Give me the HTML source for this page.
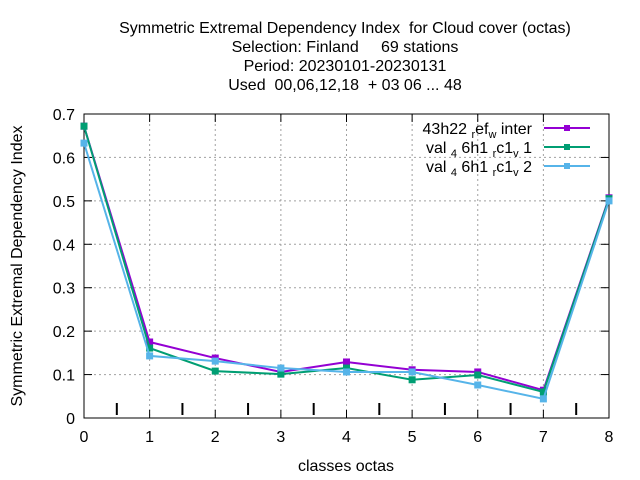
<!DOCTYPE html>
<html><head><meta charset="utf-8"><style>body{margin:0;background:#fff}svg{display:block;font-family:"Liberation Sans",sans-serif}text{white-space:pre}</style></head>
<body>
<svg id="c" width="640" height="480">
<g font-size="16" text-anchor="middle" fill="#000">
<text x="345" y="33">Symmetric Extremal Dependency Index  for Cloud cover (octas)</text>
<text x="345" y="52">Selection: Finland     69 stations</text>
<text x="345" y="71">Period: 20230101-20230131</text>
<text x="345" y="90">Used  00,06,12,18  + 03 06 ... 48</text>
</g>
<text transform="translate(22,266) rotate(-90)" text-anchor="middle" font-size="16">Symmetric Extremal Dependency Index</text>
<text x="346" y="471" text-anchor="middle" font-size="16">classes octas</text>
<g id="grid"></g><g id="axes"></g><g id="series"></g>
<g font-size="16" text-anchor="end">
<g><text x="532" y="134">43h22 <tspan font-size="11" dy="4">r</tspan><tspan dy="-4">ef</tspan><tspan font-size="11" dy="4">w</tspan><tspan dy="-4"> inter</tspan></text><line x1="544" y1="128" x2="590" y2="128" stroke="#9400d3" stroke-width="2"/><rect x="564" y="125" width="6" height="6" fill="#9400d3"/></g>
<g><text x="532" y="153">val <tspan font-size="11" dy="4">4</tspan><tspan dy="-4"> 6h1 </tspan><tspan font-size="11" dy="4">r</tspan><tspan dy="-4">c1</tspan><tspan font-size="11" dy="4">v</tspan><tspan dy="-4"> 1</tspan></text><line x1="544" y1="147" x2="590" y2="147" stroke="#009e73" stroke-width="2"/><rect x="564" y="144" width="6" height="6" fill="#009e73"/></g>
<g><text x="532" y="172">val <tspan font-size="11" dy="4">4</tspan><tspan dy="-4"> 6h1 </tspan><tspan font-size="11" dy="4">r</tspan><tspan dy="-4">c1</tspan><tspan font-size="11" dy="4">v</tspan><tspan dy="-4"> 2</tspan></text><line x1="544" y1="166" x2="590" y2="166" stroke="#56b4e9" stroke-width="2"/><rect x="564" y="163" width="6" height="6" fill="#56b4e9"/></g>
</g>
</svg>
<script>
const categories=[0,1,2,3,4,5,6,7,8];
const yTicks=[0,0.1,0.2,0.3,0.4,0.5,0.6,0.7];
const seriesRef=[0.672,0.175,0.138,0.106,0.129,0.111,0.106,0.064,0.507];
const seriesV1=[0.672,0.161,0.108,0.101,0.115,0.088,0.099,0.060,0.505];
const seriesV2=[0.633,0.143,0.131,0.115,0.106,0.106,0.076,0.044,0.500];
const seriesNames=["43h22-ref-winter","val-v1","val-v2"];
const NS="http://www.w3.org/2000/svg";
const L=84,R=609,T=114,B=418;
const xs=v=>L+(R-L)*v/8, ys=v=>B-(B-T)*v/0.7;
function mk(t,a,p){const e=document.createElementNS(NS,t);for(const k in a)e.setAttribute(k,a[k]);p.appendChild(e);return e;}
const grid=document.getElementById('grid'),axes=document.getElementById('axes'),ser=document.getElementById('series');
yTicks.forEach(v=>{const y=ys(v);
 if(v>0&&v<0.7){const g=mk('line',{x1:L,x2:R,y1:y,y2:y,stroke:'#a0a0a0','stroke-dasharray':'2,3'},grid);}
 mk('line',{x1:L,x2:L+8,y1:y,y2:y,stroke:'#000'},axes);mk('line',{x1:R-8,x2:R,y1:y,y2:y,stroke:'#000'},axes);
 const t=mk('text',{x:L-9,y:y+6,'text-anchor':'end','font-size':16},axes);t.textContent=String(v);
 });
categories.forEach(c=>{const x=xs(c);
 if(c>0&&c<8){const g=mk('line',{x1:x,x2:x,y1:T,y2:B,stroke:'#a0a0a0','stroke-dasharray':'2,3'},grid);}
 mk('line',{x1:x,x2:x,y1:B,y2:B-8,stroke:'#000'},axes);mk('line',{x1:x,x2:x,y1:T,y2:T+8,stroke:'#000'},axes);
 const t=mk('text',{x:x,y:B+24,'text-anchor':'middle','font-size':16},axes);t.textContent=String(c);
 
 if(c<8){const m=mk('line',{x1:xs(c+0.5),x2:xs(c+0.5),y1:B-15,y2:B-3,stroke:'#000','stroke-width':2},axes);}});
const fr=mk('rect',{x:L,y:T,width:R-L,height:B-T,fill:'none',stroke:'#000'},axes);

[[seriesRef,'#9400d3'],[seriesV1,'#009e73'],[seriesV2,'#56b4e9']].forEach(([d,col],i)=>{
 const g=mk('g',{},ser);
 const p=mk('polyline',{points:d.map((v,j)=>xs(categories[j])+','+ys(v)).join(' '),fill:'none',stroke:col,'stroke-width':2},g);
 
 d.forEach((v,j)=>{const r=mk('rect',{x:xs(categories[j])-3.5,y:ys(v)-3.5,width:7,height:7,fill:col},g);
 });
});
</script>
</body></html>
